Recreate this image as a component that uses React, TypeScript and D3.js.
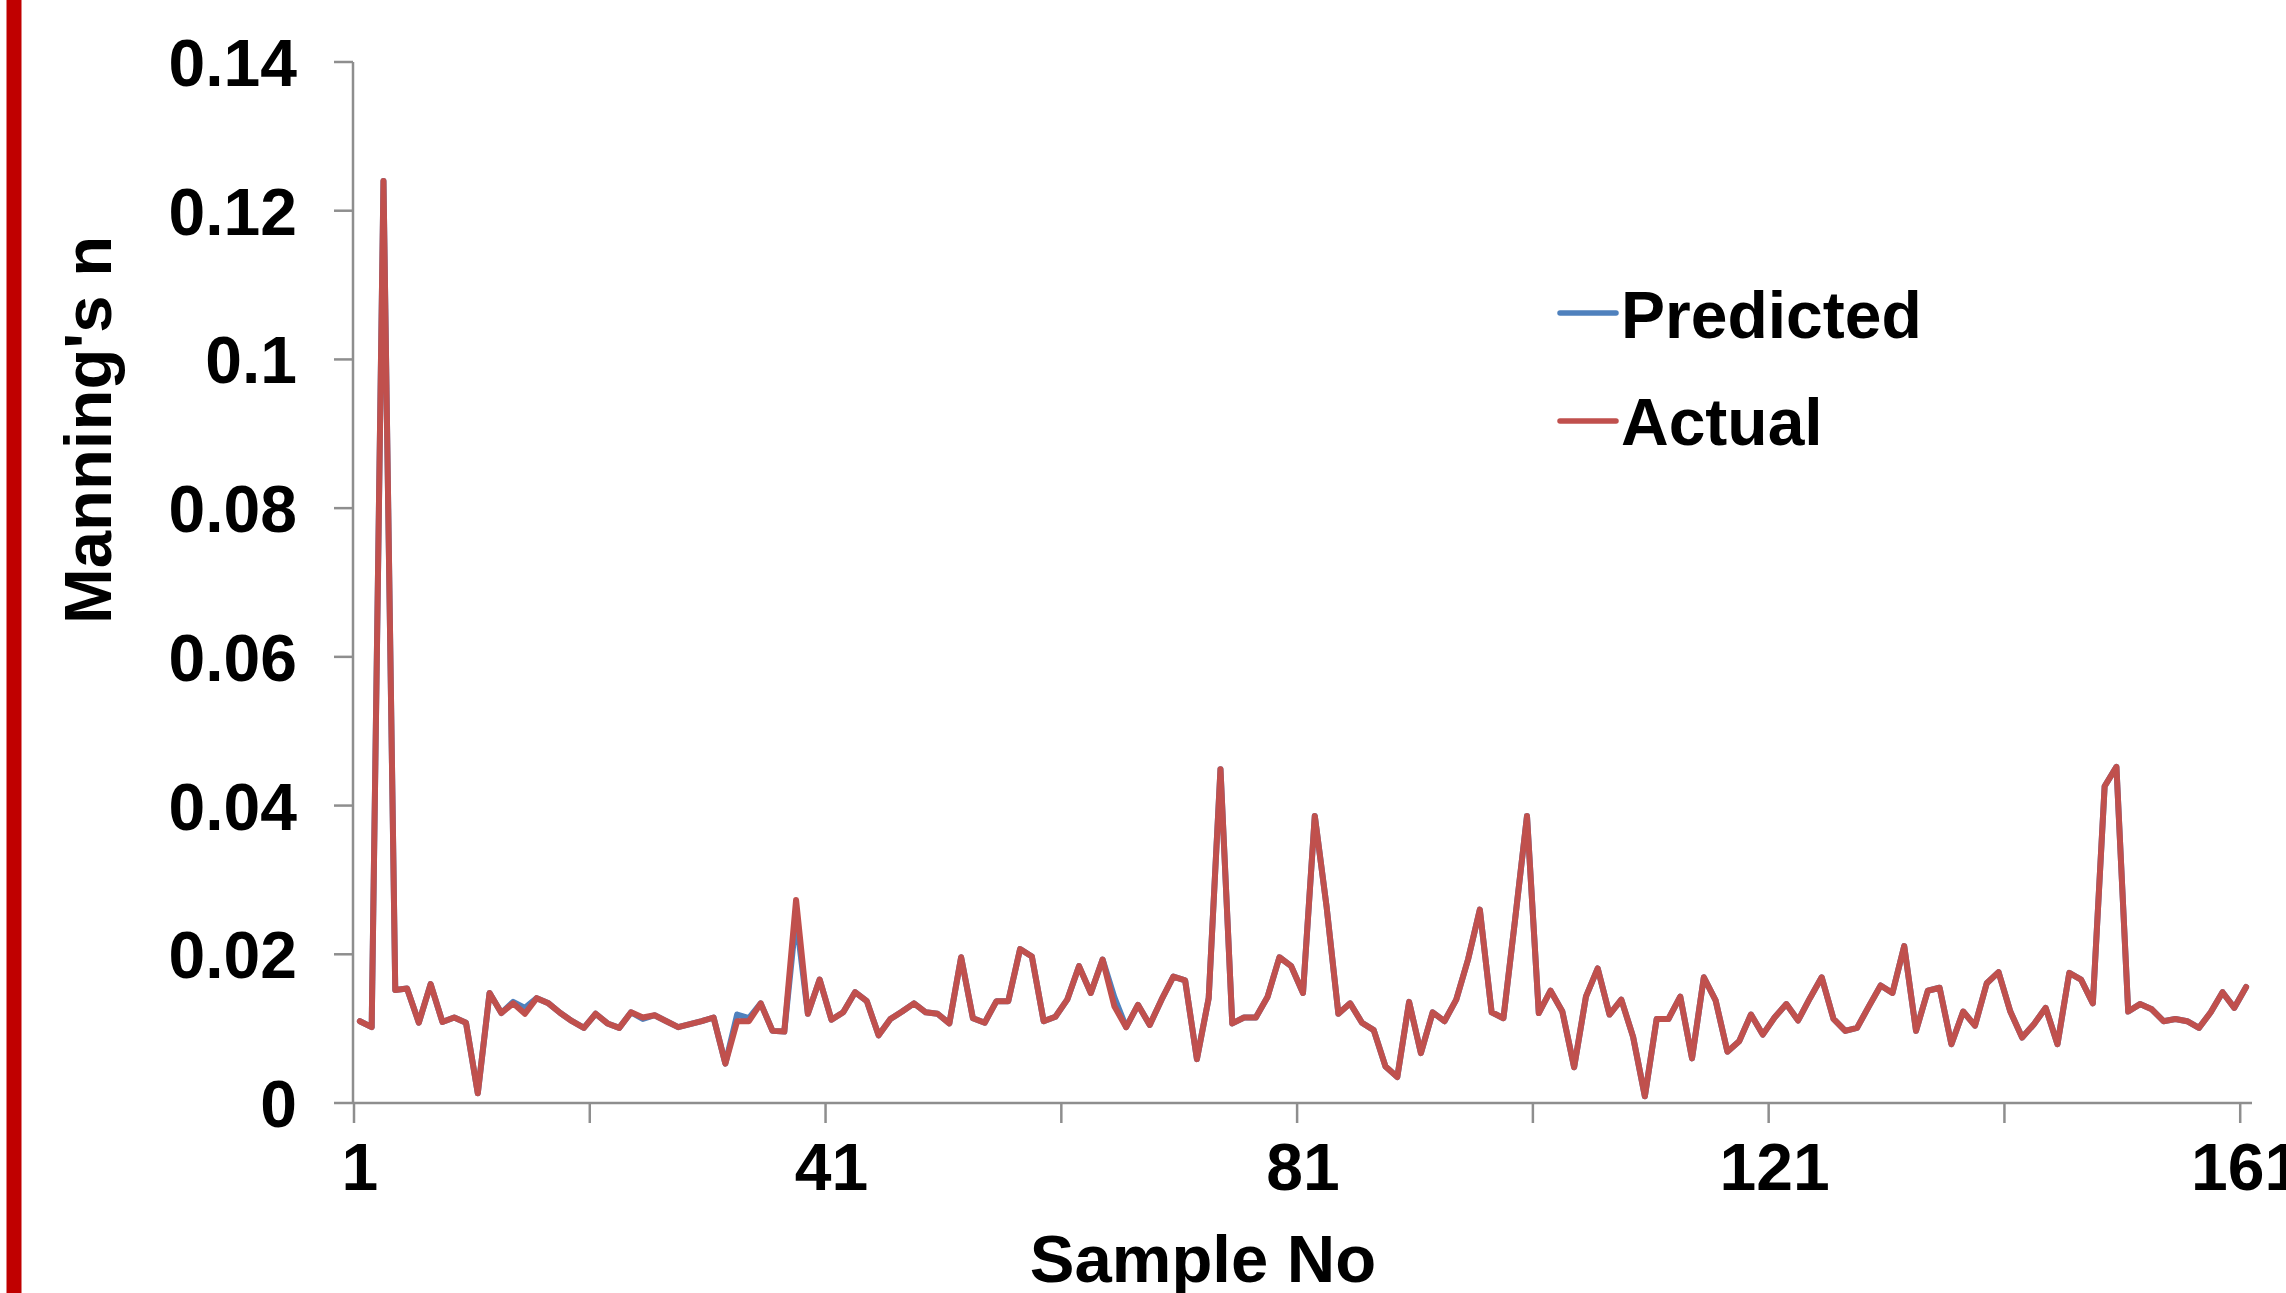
import * as d3 from "d3";

// Manning's n per sample
const actual = [
  0.0110, 0.0102, 0.1240, 0.0152, 0.0154, 0.0108, 0.0160, 0.0109, 0.0115, 0.0108,
  0.0013, 0.0148, 0.0121, 0.0134, 0.0120, 0.0141, 0.0134, 0.0121, 0.0110, 0.0101,
  0.0120, 0.0107, 0.0101, 0.0122, 0.0115, 0.0118, 0.0110, 0.0102, 0.0106, 0.0110,
  0.0115, 0.0053, 0.0110, 0.0110, 0.0134, 0.0097, 0.0096, 0.0273, 0.0120, 0.0166,
  0.0112, 0.0122, 0.0149, 0.0137, 0.0091, 0.0113, 0.0123, 0.0134, 0.0122, 0.0120,
  0.0107, 0.0196, 0.0114, 0.0108, 0.0137, 0.0137, 0.0207, 0.0197, 0.0110, 0.0116,
  0.0139, 0.0184, 0.0148, 0.0193, 0.0130, 0.0102, 0.0132, 0.0105, 0.0139, 0.0170,
  0.0165, 0.0059, 0.0141, 0.0449, 0.0107, 0.0115, 0.0115, 0.0143, 0.0196, 0.0184,
  0.0148, 0.0386, 0.0264, 0.0120, 0.0134, 0.0108, 0.0098, 0.0049, 0.0035, 0.0136,
  0.0067, 0.0122, 0.0110, 0.0139, 0.0193, 0.0260, 0.0122, 0.0114, 0.0248, 0.0386,
  0.0121, 0.0151, 0.0123, 0.0048, 0.0143, 0.0181, 0.0119, 0.0139, 0.0089, 0.0009,
  0.0113, 0.0113, 0.0143, 0.0060, 0.0169, 0.0138, 0.0069, 0.0083, 0.0119, 0.0092,
  0.0115, 0.0133, 0.0111, 0.0141, 0.0169, 0.0113, 0.0097, 0.0101, 0.0130, 0.0158,
  0.0148, 0.0211, 0.0097, 0.0151, 0.0155, 0.0079, 0.0123, 0.0104, 0.0161, 0.0176,
  0.0123, 0.0088, 0.0106, 0.0128, 0.0079, 0.0175, 0.0166, 0.0134, 0.0426, 0.0452,
  0.0123, 0.0133, 0.0126, 0.0110, 0.0113, 0.0110, 0.0101, 0.0122, 0.0149, 0.0128,
  0.0156,
];

const predicted = [
  0.0110, 0.0102, 0.1240, 0.0152, 0.0154, 0.0108, 0.0160, 0.0109, 0.0115, 0.0108,
  0.0013, 0.0148, 0.0121, 0.0136, 0.0128, 0.0141, 0.0134, 0.0121, 0.0110, 0.0101,
  0.0120, 0.0107, 0.0101, 0.0122, 0.0113, 0.0118, 0.0110, 0.0102, 0.0106, 0.0110,
  0.0115, 0.0053, 0.0119, 0.0114, 0.0134, 0.0097, 0.0096, 0.0250, 0.0120, 0.0166,
  0.0112, 0.0122, 0.0149, 0.0137, 0.0091, 0.0113, 0.0123, 0.0134, 0.0122, 0.0120,
  0.0107, 0.0196, 0.0114, 0.0108, 0.0137, 0.0137, 0.0207, 0.0197, 0.0110, 0.0116,
  0.0139, 0.0184, 0.0148, 0.0193, 0.0142, 0.0102, 0.0132, 0.0105, 0.0139, 0.0170,
  0.0165, 0.0059, 0.0141, 0.0449, 0.0107, 0.0115, 0.0115, 0.0143, 0.0196, 0.0184,
  0.0148, 0.0386, 0.0264, 0.0120, 0.0134, 0.0108, 0.0098, 0.0049, 0.0035, 0.0136,
  0.0067, 0.0122, 0.0110, 0.0139, 0.0193, 0.0260, 0.0122, 0.0114, 0.0248, 0.0386,
  0.0121, 0.0151, 0.0123, 0.0048, 0.0143, 0.0181, 0.0119, 0.0139, 0.0089, 0.0009,
  0.0113, 0.0113, 0.0143, 0.0060, 0.0169, 0.0138, 0.0069, 0.0083, 0.0119, 0.0092,
  0.0115, 0.0133, 0.0111, 0.0141, 0.0169, 0.0113, 0.0097, 0.0101, 0.0130, 0.0158,
  0.0148, 0.0211, 0.0097, 0.0151, 0.0155, 0.0079, 0.0123, 0.0104, 0.0161, 0.0176,
  0.0123, 0.0088, 0.0106, 0.0128, 0.0079, 0.0175, 0.0166, 0.0134, 0.0426, 0.0452,
  0.0123, 0.0133, 0.0126, 0.0110, 0.0113, 0.0110, 0.0101, 0.0122, 0.0149, 0.0128,
  0.0156,
];

const samples = d3.range(1, actual.length + 1);
const yTicks = [0, 0.02, 0.04, 0.06, 0.08, 0.1, 0.12, 0.14];
const xTickSamples = [1, 21, 41, 61, 81, 101, 121, 141, 161]; // tick at left edge of these
const xLabelSamples = [1, 41, 81, 121, 161];

const W = 2286;
const H = 1293;
const font = "'Liberation Sans', Arial, sans-serif";
const axisColor = "#8e8e8e";

export default function App() {
  const x = d3.scaleBand<number>().domain(samples).range([354, 2252]).padding(0);
  const y = d3.scaleLinear().domain([0, 0.14]).range([1103, 62]);
  const half = x.bandwidth() / 2;

  const line = d3
    .line<number>()
    .x((_, i) => (x(samples[i]) as number) + half)
    .y((d) => y(d));

  const fmt = (v: number) => String(+v.toFixed(2));

  return (
    <svg
      width={W}
      height={H}
      style={{ position: "absolute", left: 0, top: 0, background: "#fff" }}
      fontFamily={font}
      fontWeight="bold"
    >
      <rect x={6.5} y={0} width={15} height={H} fill="#c00000" />

      {/* y axis */}
      <line x1={353} x2={353} y1={y(0.14)} y2={y(0)} stroke={axisColor} strokeWidth={2.5} />
      {yTicks.map((t) => (
        <g key={t}>
          <line x1={334} x2={353} y1={y(t)} y2={y(t)} stroke={axisColor} strokeWidth={2.5} />
          <text x={297} y={y(t) + 24} textAnchor="end" fontSize={66} fill="#000">
            {fmt(t)}
          </text>
        </g>
      ))}

      {/* x axis */}
      <line x1={353} x2={2252} y1={y(0)} y2={y(0)} stroke={axisColor} strokeWidth={2.5} />
      {xTickSamples.map((s) => (
        <line
          key={s}
          x1={x(s) as number}
          x2={x(s) as number}
          y1={y(0)}
          y2={y(0) + 20}
          stroke={axisColor}
          strokeWidth={2.5}
        />
      ))}
      {xLabelSamples.map((s) => (
        <text key={s} x={(x(s) as number) + half} y={1190} textAnchor="middle" fontSize={66} fill="#000">
          {s}
        </text>
      ))}

      {/* series */}
      <path d={line(predicted) ?? ""} fill="none" stroke="#4f81bd" strokeWidth={6} strokeLinejoin="round" strokeLinecap="round" />
      <path d={line(actual) ?? ""} fill="none" stroke="#c0504d" strokeWidth={6} strokeLinejoin="round" strokeLinecap="round" />

      {/* axis titles */}
      <text x={1203} y={1282} textAnchor="middle" fontSize={67} fill="#000">
        Sample No
      </text>
      <text
        transform="translate(111,430) rotate(-90)"
        textAnchor="middle"
        fontSize={67}
        fill="#000"
      >
        Manning's n
      </text>

      {/* legend */}
      <line x1={1560} x2={1616} y1={313} y2={313} stroke="#4f81bd" strokeWidth={5.5} strokeLinecap="round" />
      <text x={1621} y={338} fontSize={66} fill="#000">Predicted</text>
      <line x1={1560} x2={1616} y1={421} y2={421} stroke="#c0504d" strokeWidth={5.5} strokeLinecap="round" />
      <text x={1621} y={445} fontSize={66} fill="#000">Actual</text>
    </svg>
  );
}
